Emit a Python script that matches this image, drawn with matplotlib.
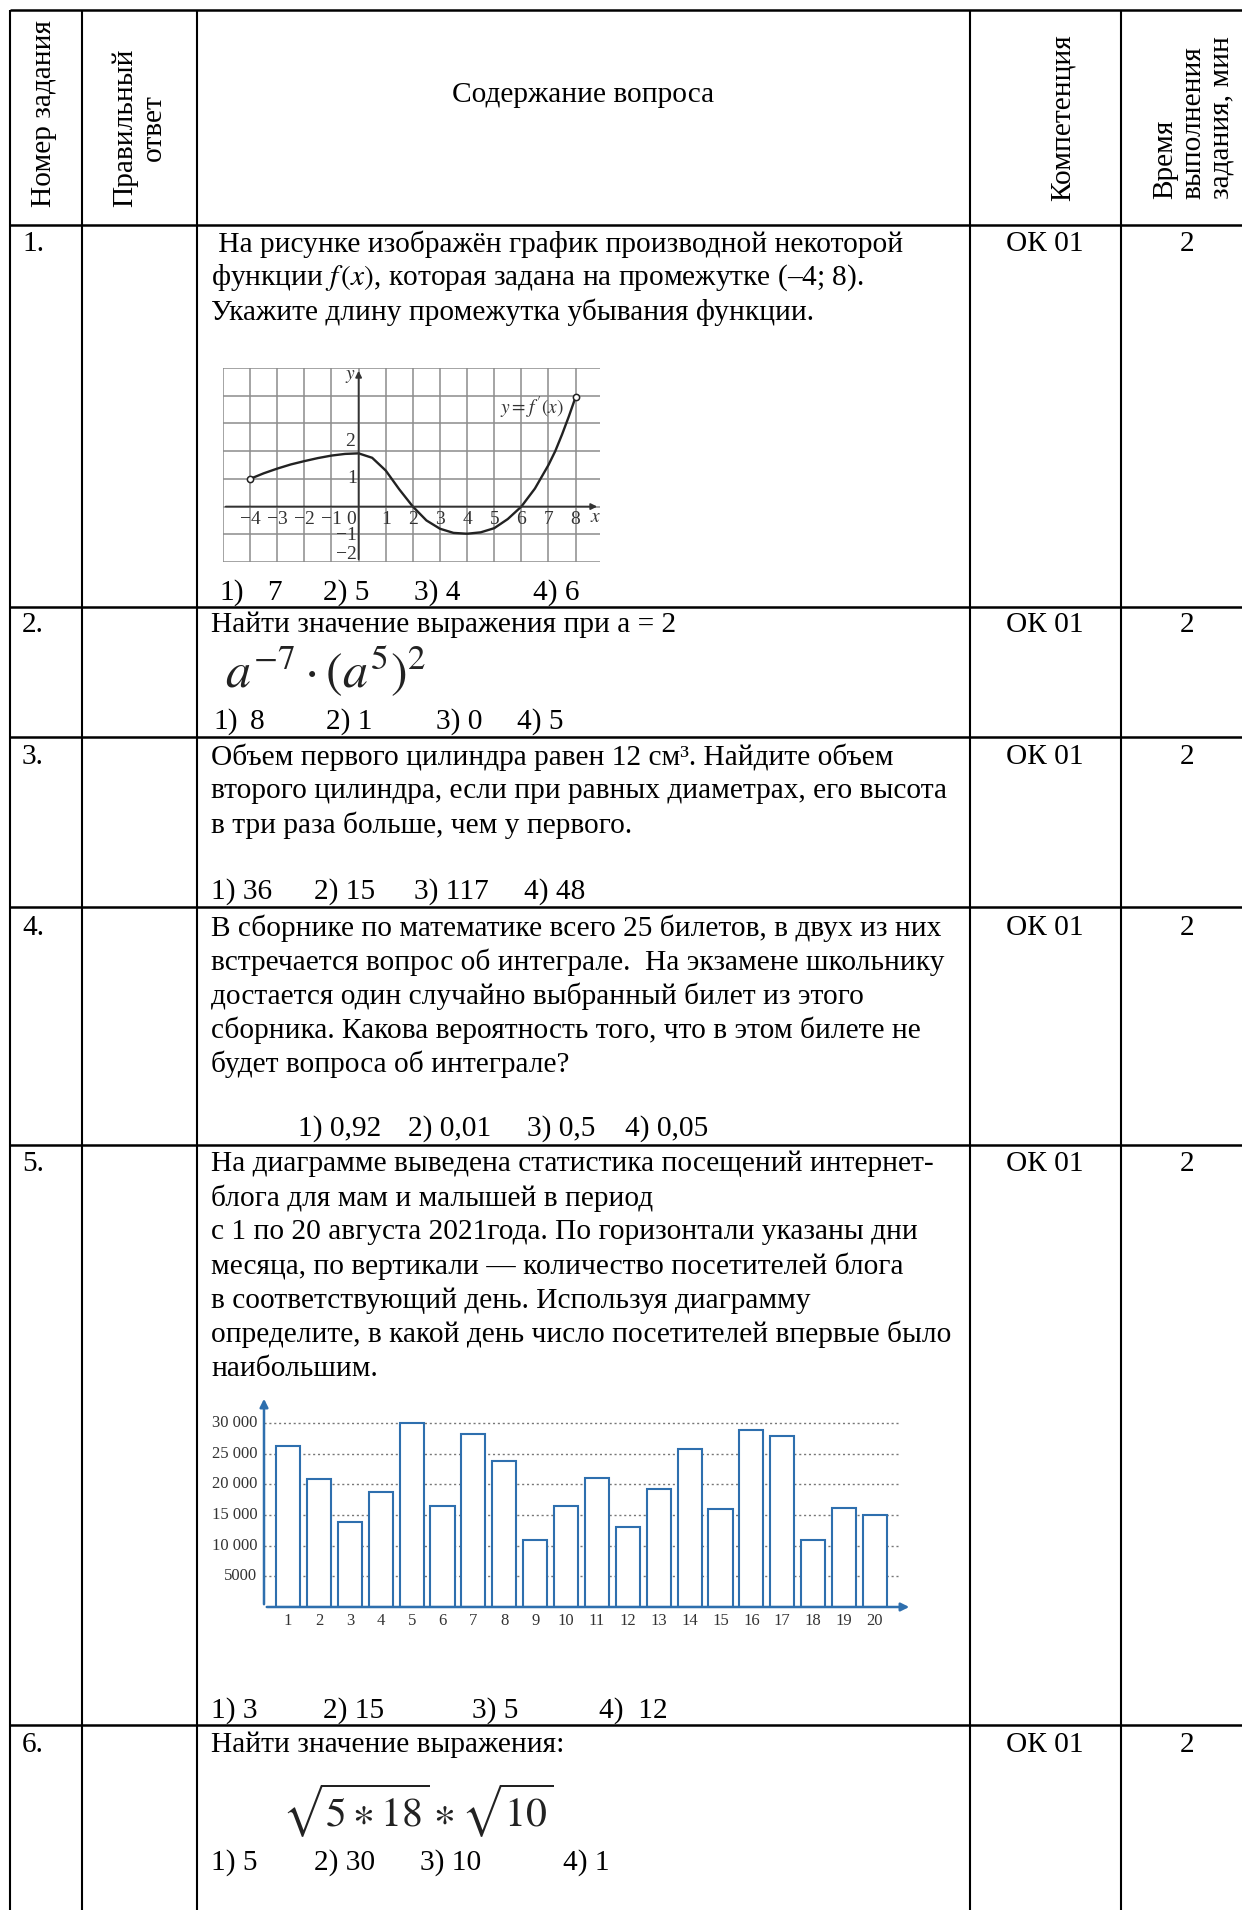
import matplotlib
matplotlib.use("Agg")
import matplotlib.pyplot as plt

plt.rcParams['font.family'] = ['Liberation Serif', 'DejaVu Serif']
plt.rcParams['mathtext.fontset'] = 'stix'

W, H = 1242, 1910
FS = 21.2

# derivative graph (task 1)
deriv_x = [-4, -3.5, -3, -2.5, -2, -1.5, -1, -0.5, 0, 0.5, 1, 1.5, 2, 2.5, 3, 3.5, 4,
           4.5, 5, 5.5, 6, 6.5, 7, 7.25, 7.5, 7.75, 8]
deriv_y = [1.0, 1.2, 1.37, 1.52, 1.64, 1.75, 1.84, 1.9, 1.92, 1.76, 1.3, 0.62, 0.0, -0.5,
           -0.8, -0.95, -0.98, -0.93, -0.78, -0.45, 0.0, 0.65, 1.5, 2.0, 2.6, 3.25, 3.95]

# blog visits (task 5)
days = list(range(1, 21))
visits = [26200, 20800, 13800, 18800, 30000, 16400, 28200, 23800, 11000, 16400,
          21000, 13000, 19200, 25800, 16000, 28800, 27800, 11000, 16200, 15000]
visit_ticks = [5000, 10000, 15000, 20000, 25000, 30000]
visit_labels = ["5000", "10 000", "15 000", "20 000", "25 000", "30 000"]

fig = plt.figure(figsize=(W / 100, H / 100), dpi=100)
bg = fig.add_axes([0, 0, 1, 1])
bg.set_xlim(0, W)
bg.set_ylim(H, 0)
bg.axis('off')


def px_axes(x0, y0, x1, y1):
    return fig.add_axes([x0 / W, 1 - y1 / H, (x1 - x0) / W, (y1 - y0) / H])


# table grid
col_x = [10, 82, 197, 970, 1121]
row_y = [10, 225, 607, 737, 907, 1145, 1725]
for y in row_y:
    bg.plot([10, W], [y, y], color='black', lw=1.8, solid_capstyle='butt')
for x in col_x:
    bg.plot([x, x], [10, H], color='black', lw=1.5, solid_capstyle='butt')

# header
bg.text(44, 207, "Номер задания", rotation=90, ha='center', va='bottom', fontsize=FS)
bg.text(139, 128, "Правильный\nответ", rotation=90, ha='center', va='center',
        fontsize=FS, multialignment='center', linespacing=1.15)
bg.text(583, 95, "Содержание вопроса", ha='center', va='center', fontsize=FS)
bg.text(1063, 201, "Компетенция", rotation=90, ha='center', va='bottom', fontsize=FS)
bg.text(1193, 199, "Время\nвыполнения\nзадания, мин", rotation=90, ha='center',
        va='bottom', fontsize=FS, multialignment='left', linespacing=1.1)


def line(x, y, s, **kw):
    bg.text(x, y, s, ha='left', va='center', fontsize=FS, **kw)


def row_meta(y, num):
    line(22, y, num)
    bg.text(1045, y, "ОК 01", ha='center', va='center', fontsize=FS)
    bg.text(1187, y, "2", ha='center', va='center', fontsize=FS)


TX = 211

# task 1
row_meta(244, "1.")
line(TX, 244, " На рисунке изображён график производной некоторой")
line(TX, 278, r"функции $f\,(x)$, которая задана на промежутке (–4; 8).")
line(TX, 312, "Укажите длину промежутка убывания функции.")
for x, s in zip([219, 267, 323, 414, 533], ["1)", "7", "2) 5", "3) 4", "4) 6"]):
    line(x, 593, s)

ax1 = px_axes(223, 368, 600, 562)
ax1.set_xlim(-5, 8.9)
ax1.set_ylim(-2, 5)
for gx in range(-5, 9):
    ax1.axvline(gx, color='#8c8c8c', lw=1.1)
for gy in range(-2, 6):
    ax1.axhline(gy, color='#8c8c8c', lw=1.1)
ax1.axis('off')
ax1.annotate("", xy=(8.9, 0), xytext=(-5, 0),
             arrowprops=dict(arrowstyle='-|>', color='#333', lw=1.3, mutation_scale=9))
ax1.annotate("", xy=(0, 5), xytext=(0, -2),
             arrowprops=dict(arrowstyle='-|>', color='#333', lw=1.3, mutation_scale=9))
ax1.plot(deriv_x, deriv_y, color='#222', lw=1.7)
ax1.plot([deriv_x[0], deriv_x[-1]], [deriv_y[0], deriv_y[-1]], 'o', ms=4.5,
         mfc='white', mec='#222', mew=1.1)
gfs = 14
for t in [-4, -3, -2, -1, 1, 2, 3, 4, 5, 6, 7, 8]:
    ax1.text(t, -0.45, str(t).replace('-', '−'), ha='center', va='center',
             fontsize=gfs, color='#333')
ax1.text(-0.28, -0.45, "0", ha='center', va='center', fontsize=gfs, color='#333')
ax1.text(-0.3, 2.35, "2", ha='center', va='center', fontsize=gfs, color='#333')
ax1.text(-0.25, 1.0, "1", ha='center', va='center', fontsize=gfs, color='#333')
ax1.text(-0.45, -1.05, "−1", ha='center', va='center', fontsize=gfs, color='#333')
ax1.text(-0.45, -1.72, "−2", ha='center', va='center', fontsize=gfs, color='#333')
ax1.text(8.75, -0.4, "$x$", ha='center', va='center', fontsize=14, color='#333')
ax1.text(-0.3, 4.7, "$y$", ha='center', va='center', fontsize=14, color='#333')
ax1.text(6.4, 3.55, "$y = f\\,'(x)$", ha='center', va='center', fontsize=14, color='#333')

# task 2
row_meta(625, "2.")
line(TX, 625, "Найти значение выражения при a = 2")
bg.text(225, 687, r"$a^{-7}\cdot(a^{5})^{2}$", ha='left', va='baseline', fontsize=36,
        color='#222')
for x, s in zip([213, 250, 326, 436, 517], ["1)", "8", "2) 1", "3) 0", "4) 5"]):
    line(x, 722, s)

# task 3
row_meta(757, "3.")
line(TX, 757, "Объем первого цилиндра равен 12 см³. Найдите объем")
line(TX, 791, "второго цилиндра, если при равных диаметрах, его высота")
line(TX, 825, "в три раза больше, чем у первого.")
for x, s in zip([211, 314, 414, 524], ["1) 36", "2) 15", "3) 117", "4) 48"]):
    line(x, 892, s)

# task 4
row_meta(928, "4.")
line(TX, 928, "В сборнике по математике всего 25 билетов, в двух из них")
line(TX, 962, "встречается вопрос об интеграле.  На экзамене школьнику")
line(TX, 996, "достается один случайно выбранный билет из этого")
line(TX, 1030, "сборника. Какова вероятность того, что в этом билете не")
line(TX, 1064, "будет вопроса об интеграле?")
for x, s in zip([298, 408, 527, 625], ["1) 0,92", "2) 0,01", "3) 0,5", "4) 0,05"]):
    line(x, 1129, s)

# task 5
row_meta(1164, "5.")
t5 = ["На диаграмме выведена статистика посещений интернет-",
      "блога для мам и малышей в период",
      "с 1 по 20 августа 2021года. По горизонтали указаны дни",
      "месяца, по вертикали — количество посетителей блога",
      "в соответствующий день. Используя диаграмму",
      "определите, в какой день число посетителей впервые было",
      "наибольшим."]
for i, s in enumerate(t5):
    line(TX, 1164 + 34.1 * i, s)

blue = '#2e6fae'
ax5 = px_axes(264, 1396, 912, 1607)
ax5.set_xlim(0.22, 21.2)
ax5.set_ylim(0, 34400)
ax5.axis('off')
ax5.hlines(visit_ticks, 0.22, 20.8, colors='#777', linestyles=(0, (1.5, 2)), lw=1.0)
ax5.bar(days, visits, width=0.78, facecolor='white', edgecolor=blue, lw=1.5, zorder=3)
ax5.annotate("", xy=(21.2, 0), xytext=(0.22, 0),
             arrowprops=dict(arrowstyle='-|>', color=blue, lw=1.8, mutation_scale=12))
ax5.annotate("", xy=(0.22, 34400), xytext=(0.22, 0),
             arrowprops=dict(arrowstyle='-|>', color=blue, lw=1.8, mutation_scale=12))
for d in days:
    ax5.text(d, -2300, str(d), ha='center', va='center', fontsize=12, color='#333')
for v, lab in zip(visit_ticks, visit_labels):
    ax5.text(0.0, v, lab, ha='right', va='center', fontsize=12, color='#333')
for x, s in zip([211, 323, 472, 599], ["1) 3", "2) 15", "3) 5", "4)  12"]):
    line(x, 1711, s)

# task 6
row_meta(1745, "6.")
line(TX, 1745, "Найти значение выражения:")
bg.text(282, 1827, r"$\sqrt{5\ast 18}\ast\sqrt{10}$", ha='left', va='baseline',
        fontsize=30, color='#222')
for x, s in zip([211, 314, 420, 563], ["1) 5", "2) 30", "3) 10", "4) 1"]):
    line(x, 1863, s)

fig.savefig("out.png", dpi=100)
